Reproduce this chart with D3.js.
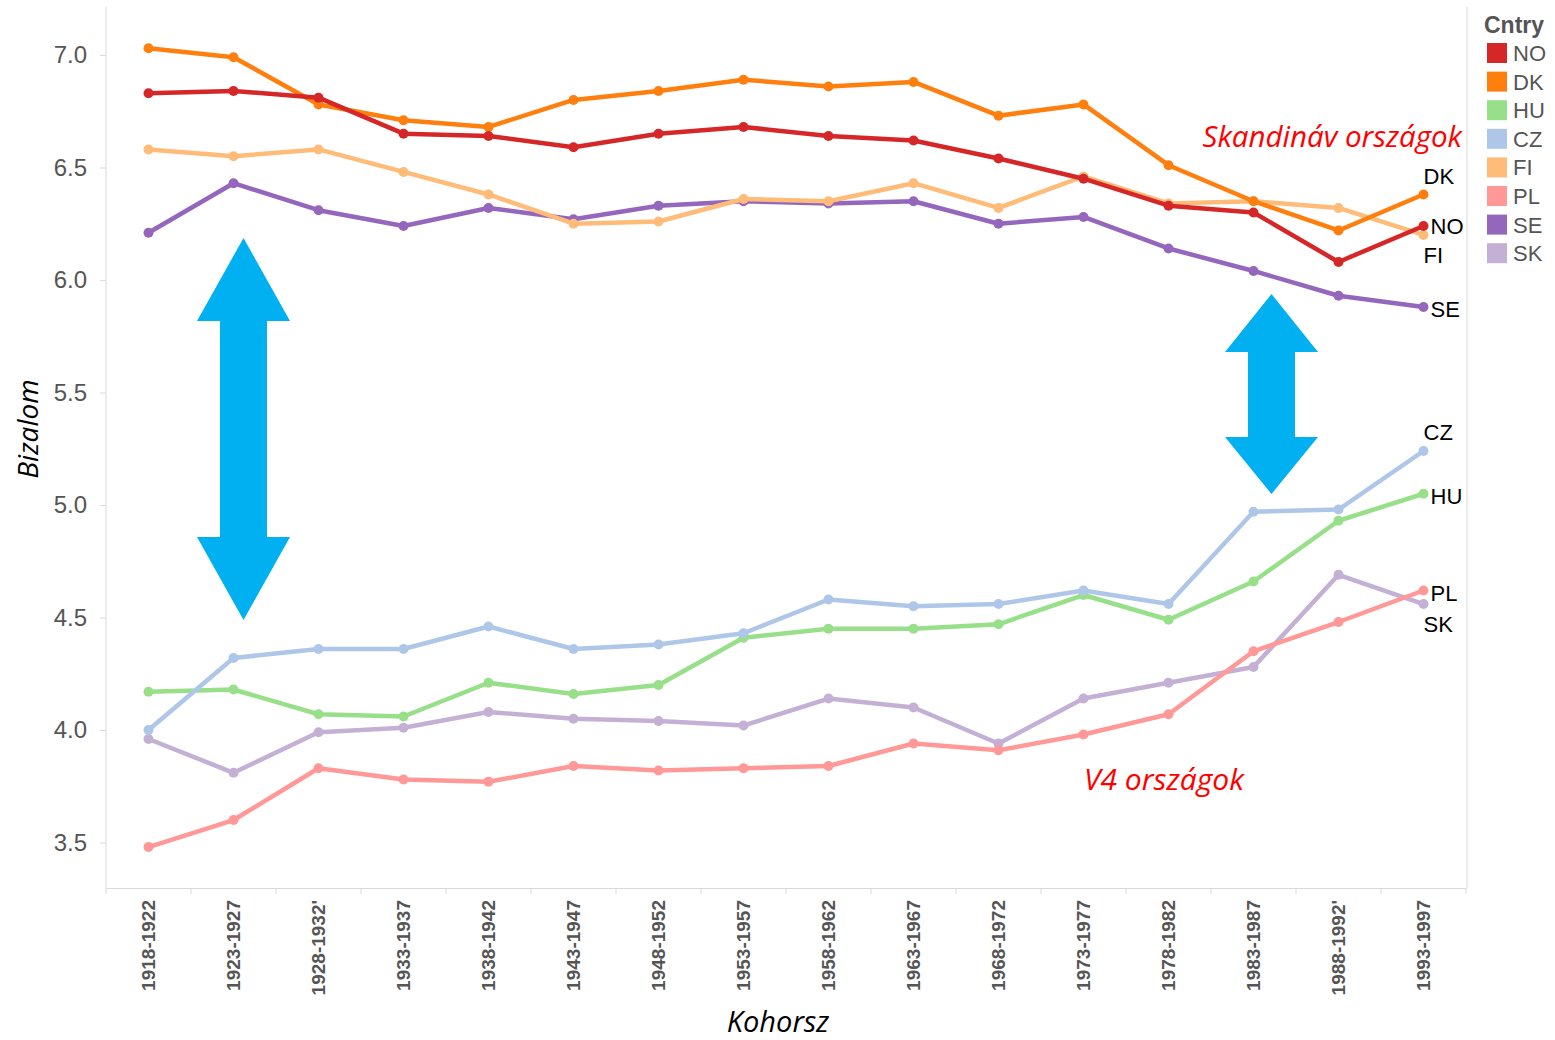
<!DOCTYPE html>
<html>
<head>
<meta charset="utf-8">
<script src="https://cdn.jsdelivr.net/npm/d3@7"></script>
<style>
  body { margin: 0; background: #fff; }
  svg text { font-family: Arial, "Liberation Sans", sans-serif; }
</style>
</head>
<body>
<svg id="chart" width="1555" height="1040"></svg>
<script>
// cohort labels (x axis)
const cohorts = ["1918-1922", "1923-1927", "1928-1932'", "1933-1937", "1938-1942", "1943-1947",
  "1948-1952", "1953-1957", "1958-1962", "1963-1967", "1968-1972", "1973-1977",
  "1978-1982", "1983-1987", "1988-1992'", "1993-1997"];

const countries = ["NO", "DK", "HU", "CZ", "FI", "PL", "SE", "SK"];
const colors = ["#d62728", "#ff7f0e", "#98df8a", "#aec7e8", "#ffbb78", "#ff9896", "#9467bd", "#c5b0d5"];
const yTicks = [3.5, 4.0, 4.5, 5.0, 5.5, 6.0, 6.5, 7.0];

// trust values per country
const NO = [6.83, 6.84, 6.81, 6.65, 6.64, 6.59, 6.65, 6.68, 6.64, 6.62, 6.54, 6.45, 6.33, 6.30, 6.08, 6.24];
const DK = [7.03, 6.99, 6.78, 6.71, 6.68, 6.80, 6.84, 6.89, 6.86, 6.88, 6.73, 6.78, 6.51, 6.35, 6.22, 6.38];
const HU = [4.17, 4.18, 4.07, 4.06, 4.21, 4.16, 4.20, 4.41, 4.45, 4.45, 4.47, 4.60, 4.49, 4.66, 4.93, 5.05];
const CZ = [4.00, 4.32, 4.36, 4.36, 4.46, 4.36, 4.38, 4.43, 4.58, 4.55, 4.56, 4.62, 4.56, 4.97, 4.98, 5.24];
const FI = [6.58, 6.55, 6.58, 6.48, 6.38, 6.25, 6.26, 6.36, 6.35, 6.43, 6.32, 6.46, 6.34, 6.35, 6.32, 6.20];
const PL = [3.48, 3.60, 3.83, 3.78, 3.77, 3.84, 3.82, 3.83, 3.84, 3.94, 3.91, 3.98, 4.07, 4.35, 4.48, 4.62];
const SE = [6.21, 6.43, 6.31, 6.24, 6.32, 6.27, 6.33, 6.35, 6.34, 6.35, 6.25, 6.28, 6.14, 6.04, 5.93, 5.88];
const SK = [3.96, 3.81, 3.99, 4.01, 4.08, 4.05, 4.04, 4.02, 4.14, 4.10, 3.94, 4.14, 4.21, 4.28, 4.69, 4.56];

const seriesValues = { NO, DK, HU, CZ, FI, PL, SE, SK };
// end label offsets (dx, dy) next to last point
const endLabels = { DK: [0, -10], NO: [7, 8], FI: [0, 28], SE: [7, 10], CZ: [0, -11], HU: [7, 10], PL: [7, 10], SK: [0, 28] };

const svg = d3.select("#chart");
const margin = { left: 106, top: 7, right: 1467, bottom: 888 };

const x = d3.scaleBand().domain(cohorts).range([margin.left, margin.right - 1]);
const y = d3.scaleLinear().domain([3.298, 7.213]).range([margin.bottom, margin.top]);
const color = d3.scaleOrdinal().domain(countries).range(colors);
const cx = d => x(d) + x.bandwidth() / 2;

// frame
svg.append("line").attr("x1", margin.left).attr("x2", margin.left)
  .attr("y1", margin.top).attr("y2", margin.bottom).attr("stroke", "#d9d9d9");
svg.append("line").attr("x1", margin.right).attr("x2", margin.right)
  .attr("y1", margin.top).attr("y2", margin.bottom).attr("stroke", "#d9d9d9");

// y axis
const yAxis = svg.append("g").attr("transform", `translate(${margin.left},0)`)
  .call(d3.axisLeft(y).tickValues(yTicks).tickFormat(d3.format(".1f")).tickSize(6).tickPadding(13));
yAxis.select(".domain").remove();
yAxis.selectAll("line").attr("stroke", "#d9d9d9");
yAxis.selectAll("text").attr("fill", "#555").style("font-size", "24px");

// x axis
const xAxis = svg.append("g").attr("transform", `translate(0,${margin.bottom})`)
  .call(d3.axisBottom(x).tickSize(0).tickSizeOuter(0));
xAxis.select(".domain").attr("stroke", "#d9d9d9");
xAxis.selectAll(".tick text")
  .attr("transform", "rotate(-90)")
  .attr("text-anchor", "end")
  .attr("x", -12).attr("y", 0).attr("dy", "0.35em")
  .attr("fill", "#555").style("font-size", "19px").style("font-weight", "bold");
// band boundary ticks
svg.append("g").selectAll("line")
  .data(cohorts.concat(["end"]))
  .join("line")
  .attr("x1", (d, i) => margin.left + i * x.bandwidth())
  .attr("x2", (d, i) => margin.left + i * x.bandwidth())
  .attr("y1", margin.bottom).attr("y2", margin.bottom + 6)
  .attr("stroke", "#d9d9d9");

// blue double arrows
const arrows = [
  { cx: 243.5, top: 238, headBase1: 321, headBase2: 537, bottom: 620, headW: 93, shaftW: 47 },
  { cx: 1271.5, top: 294, headBase1: 352, headBase2: 437, bottom: 494, headW: 93, shaftW: 47 }
];
svg.append("g").selectAll("path").data(arrows).join("path")
  .attr("fill", "#00b0f0")
  .attr("d", a => {
    const h = a.headW / 2, s = a.shaftW / 2;
    return `M${a.cx},${a.top} L${a.cx + h},${a.headBase1} L${a.cx + s},${a.headBase1}
      L${a.cx + s},${a.headBase2} L${a.cx + h},${a.headBase2} L${a.cx},${a.bottom}
      L${a.cx - h},${a.headBase2} L${a.cx - s},${a.headBase2} L${a.cx - s},${a.headBase1}
      L${a.cx - h},${a.headBase1} Z`;
  });

// lines
const drawOrder = ["SK", "PL", "HU", "CZ", "SE", "FI", "DK", "NO"];
const line = d3.line().x((d, i) => cx(cohorts[i])).y(d => y(d));
const series = svg.append("g").selectAll("g").data(drawOrder).join("g");
series.append("path")
  .attr("d", c => line(seriesValues[c]))
  .attr("fill", "none")
  .attr("stroke", c => color(c))
  .attr("stroke-width", 4.5)
  .attr("stroke-linejoin", "round");
series.selectAll("circle")
  .data(c => seriesValues[c].map((v, i) => ({ c, v, i })))
  .join("circle")
  .attr("cx", d => cx(cohorts[d.i]))
  .attr("cy", d => y(d.v))
  .attr("r", 5)
  .attr("fill", d => color(d.c));

// end labels
svg.append("g").selectAll("text").data(countries).join("text")
  .attr("x", c => cx(cohorts[cohorts.length - 1]) + endLabels[c][0])
  .attr("y", c => y(seriesValues[c][cohorts.length - 1]) + endLabels[c][1])
  .attr("fill", "#000")
  .style("font-size", "22px")
  .text(c => c);

// annotations
svg.append("text").attr("x", 1462).attr("y", 147).attr("text-anchor", "end")
  .attr("fill", "#ff0000").style("font-size", "29.5px").style("font-style", "italic")
  .style("font-family", "'Open Sans', sans-serif").text("Skandináv országok");
svg.append("text").attr("x", 1084).attr("y", 790)
  .attr("fill", "#ff0000").style("font-size", "30px").style("font-style", "italic")
  .style("font-family", "'Open Sans', sans-serif").text("V4 országok");

// axis titles
svg.append("text").attr("transform", "translate(38,429) rotate(-90)")
  .attr("text-anchor", "middle").style("font-size", "28px").style("font-style", "italic")
  .style("font-family", "'Open Sans', sans-serif").text("Bizalom");
svg.append("text").attr("x", 778).attr("y", 1032).attr("text-anchor", "middle")
  .style("font-size", "29px").style("font-style", "italic")
  .style("font-family", "'Open Sans', sans-serif").text("Kohorsz");

// legend
const legend = svg.append("g").attr("transform", "translate(1486,0)");
legend.append("text").attr("x", -2).attr("y", 33).attr("fill", "#555")
  .style("font-size", "23px").style("font-weight", "bold").text("Cntry");
const items = legend.selectAll("g.item").data(countries).join("g")
  .attr("class", "item")
  .attr("transform", (c, i) => `translate(0,${53 + i * 28.6})`);
items.append("rect").attr("x", 1).attr("y", -10).attr("width", 20).attr("height", 20)
  .attr("fill", c => color(c));
items.append("text").attr("x", 27).attr("y", 0).attr("dy", "0.36em")
  .attr("fill", "#555").style("font-size", "22px").text(c => c);
</script>
</body>
</html>
